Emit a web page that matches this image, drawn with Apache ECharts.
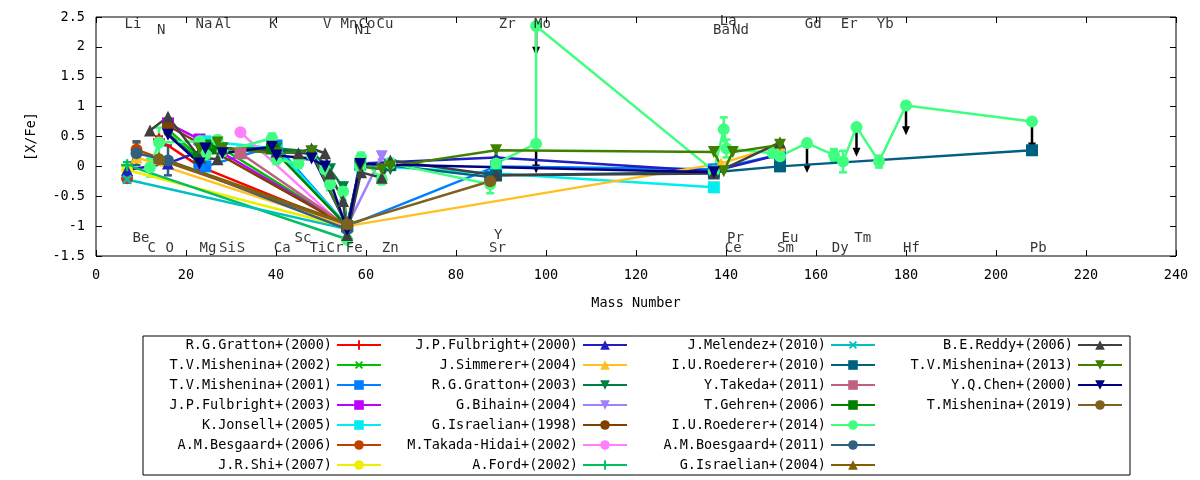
<!DOCTYPE html>
<html>
<head>
<meta charset="utf-8">
<script src="https://cdn.jsdelivr.net/npm/echarts@6/dist/echarts.min.js"></script>
<style>
html, body { margin: 0; padding: 0; background: #fff; }
#chart { width: 1200px; height: 480px; }
</style>
</head>
<body>
<div id="chart"></div>
<script>
// [mass, [X/Fe], error]
const gratton2000 = [[14.0, 0.45, 0.05], [23.0, 0.0, 0.05], [55.8, -1.0, 0]];
const mishenina2002 = [[16.0, 0.62, 0.08], [23.0, 0.15, 0.05], [24.3, 0.35, 0.05], [27.0, 0.35, 0.05], [55.8, -1.0, 0]];
const mishenina2001 = [[23.0, 0.05, 0], [24.3, 0.0, 0.05], [40.1, 0.35, 0.05], [55.8, -1.0, 0], [88.9, 0.0, 0], [137.3, -0.05, 0], [152.0, 0.2, 0]];
const fulbright2003 = [[16.0, 0.72, 0], [23.0, 0.45, 0], [55.8, -1.0, 0]];
const jonsell2005 = [[24.3, 0.42, 0], [40.1, 0.3, 0], [55.8, -1.0, 0], [58.7, 0.02, 0], [88.9, -0.12, 0], [137.3, -0.35, 0]];
const besgaard2006 = [[6.9, -0.2, 0.05], [9.0, 0.28, 0.12], [55.8, -1.0, 0]];
const shi2007 = [[6.9, -0.06, 0], [55.8, -1.02, 0]];
const fulbright2000 = [[6.9, -0.06, 0], [16.0, 0.05, 0], [23.0, 0.25, 0], [24.3, 0.3, 0], [40.1, 0.3, 0], [47.9, 0.2, 0], [55.8, -1.0, 0], [58.7, 0.05, 0], [88.9, 0.15, 0], [137.3, -0.08, 0], [152.0, 0.2, 0]];
const simmerer2004 = [[9.0, 0.15, 0], [55.8, -1.0, 0], [138.9, 0.05, 0], [152.0, 0.35, 0]];
const gratton2003 = [[16.0, 0.55, 0], [23.0, 0.1, 0], [24.3, 0.3, 0], [28.1, 0.3, 0], [40.1, 0.3, 0], [47.9, 0.25, 0], [52.0, -0.05, 0], [54.9, -0.35, 0], [55.8, -1.0, 0], [58.7, 0.0, 0], [65.4, -0.05, 0]];
const bihain2004 = [[55.8, -1.0, 0], [63.5, 0.17, 0.05]];
const israelian1998 = [[16.0, 0.68, 0], [55.8, -1.0, 0]];
const takadaHidai2002 = [[32.1, 0.57, 0], [55.8, -1.05, 0]];
const ford2002 = [[6.9, 0.02, 0.05], [55.8, -1.22, 0]];
const melendez2010 = [[6.9, -0.22, 0.05], [55.8, -1.05, 0]];
const roederer2010 = [[65.4, 0.02, 0], [87.6, -0.18, 0], [88.9, -0.15, 0], [137.3, -0.1, 0], [152.0, 0.0, 0], [208.0, 0.27, 0]];
const takeda2011 = [[32.1, 0.22, 0], [55.8, -1.0, 0]];
const gehren2006 = [[23.0, 0.15, 0], [24.3, 0.35, 0], [27.0, 0.3, 0], [39.1, 0.3, 0], [55.8, -1.0, 0]];
const roederer2014 = [[12.0, -0.02, 0.15], [14.0, 0.4, 0.25], [23.0, 0.42, 0.07], [24.3, 0.2, 0.08], [27.0, 0.44, 0.07],
  [28.1, 0.25, 0.1], [39.1, 0.47, 0.08], [40.1, 0.12, 0.08], [45.0, 0.05, 0.08], [47.9, 0.2, 0.08], [50.9, -0.05, 0.1],
  [52.0, -0.3, 0.1], [54.9, -0.42, 0.15], [55.8, -1.23, 0.05], [58.7, 0.0, 0.1], [58.9, 0.15, 0.08], [63.5, -0.22, 0.08],
  [65.4, 0.05, 0.08], [87.6, -0.3, 0.15], [88.9, 0.05, 0.1], [97.8, 0.38, 0], [97.8, 2.35, 0], [137.3, -0.08, 0.1],
  [139.5, 0.62, 0.2], [140.1, 0.3, 0.15], [150.4, 0.22, 0.07], [152.0, 0.17, 0.08], [158.0, 0.39, 0], [164.0, 0.19, 0.1],
  [166.0, 0.08, 0.18], [169.0, 0.66, 0], [174.0, 0.08, 0.1], [180.0, 1.02, 0], [208.0, 0.75, 0]];
const boesgaard2011 = [[9.0, 0.22, 0.2], [16.0, 0.1, 0.25], [55.8, -1.05, 0]];
const israelian2004 = [[14.0, 0.15, 0], [55.8, -0.95, 0]];
const reddy2006 = [[12.0, 0.6, 0], [16.0, 0.83, 0], [23.0, 0.15, 0], [27.0, 0.12, 0], [28.1, 0.3, 0], [40.1, 0.25, 0],
  [45.0, 0.22, 0], [47.9, 0.3, 0], [50.9, 0.22, 0], [52.0, -0.12, 0], [54.9, -0.58, 0], [55.8, -1.15, 0], [58.9, -0.1, 0],
  [63.5, -0.19, 0], [65.4, 0.1, 0], [88.9, -0.15, 0], [137.3, -0.12, 0], [152.0, 0.4, 0]];
const mishenina2013 = [[23.0, 0.3, 0], [27.0, 0.4, 0], [28.1, 0.3, 0], [40.1, 0.22, 0], [47.9, 0.25, 0], [55.8, -1.0, 0],
  [58.7, 0.0, 0], [63.5, -0.05, 0], [65.4, 0.0, 0], [88.9, 0.27, 0], [137.3, 0.24, 0], [139.5, -0.08, 0], [141.5, 0.24, 0], [152.0, 0.36, 0]];
const chen2000 = [[16.0, 0.53, 0], [23.0, 0.05, 0], [24.3, 0.3, 0], [28.1, 0.22, 0], [39.1, 0.33, 0], [40.1, 0.18, 0],
  [47.9, 0.13, 0], [50.9, 0.0, 0], [55.8, -1.06, 0], [58.7, 0.04, 0], [137.3, -0.1, 0]];
const mishenina2019 = [[14.0, 0.12, 0], [55.8, -0.97, 0], [87.6, -0.25, 0]];

// upper limits of I.U.Roederer+(2014): [mass, value]
const upperLimits = [[97.8, 2.35], [97.8, 0.38], [158.0, 0.39], [169.0, 0.66], [180.0, 1.02], [208.0, 0.75]];

// element labels: [name, mass, y]
const elementLabels = [
  ['Li', 8.2, 2.38], ['N', 14.5, 2.27], ['Na', 24.0, 2.38], ['Al', 28.3, 2.38], ['K', 39.4, 2.38], ['V', 51.4, 2.38],
  ['Mn', 56.2, 2.38], ['Co', 60.2, 2.38], ['Cu', 64.2, 2.38], ['Ni', 59.4, 2.27], ['Zr', 91.4, 2.38], ['Mo', 99.2, 2.38],
  ['La', 140.5, 2.43], ['Ba', 139.0, 2.27], ['Nd', 143.2, 2.27], ['Gd', 159.4, 2.38], ['Er', 167.4, 2.38], ['Yb', 175.4, 2.38],
  ['Be', 10.0, -1.21], ['C', 12.4, -1.37], ['O', 16.4, -1.37], ['Mg', 24.9, -1.37], ['Si', 29.2, -1.37], ['S', 32.2, -1.37],
  ['Ca', 41.4, -1.37], ['Sc', 46.0, -1.21], ['Ti', 49.3, -1.37], ['Cr', 53.1, -1.37], ['Fe', 57.4, -1.37], ['Zn', 65.4, -1.37],
  ['Y', 89.4, -1.16], ['Sr', 89.2, -1.37], ['Pr', 142.1, -1.21], ['Ce', 141.6, -1.37], ['Eu', 154.2, -1.21], ['Sm', 153.2, -1.37],
  ['Dy', 165.4, -1.37], ['Tm', 170.4, -1.21], ['Hf', 181.2, -1.37], ['Pb', 209.4, -1.37]
];

const seriesNames = [
  'R.G.Gratton+(2000)', 'T.V.Mishenina+(2002)', 'T.V.Mishenina+(2001)', 'J.P.Fulbright+(2003)', 'K.Jonsell+(2005)',
  'A.M.Besgaard+(2006)', 'J.R.Shi+(2007)', 'J.P.Fulbright+(2000)', 'J.Simmerer+(2004)', 'R.G.Gratton+(2003)',
  'G.Bihain+(2004)', 'G.Israelian+(1998)', 'M.Takada-Hidai+(2002)', 'A.Ford+(2002)', 'J.Melendez+(2010)',
  'I.U.Roederer+(2010)', 'Y.Takeda+(2011)', 'T.Gehren+(2006)', 'I.U.Roederer+(2014)', 'A.M.Boesgaard+(2011)',
  'G.Israelian+(2004)', 'B.E.Reddy+(2006)', 'T.V.Mishenina+(2013)', 'Y.Q.Chen+(2000)', 'T.Mishenina+(2019)'
];
const seriesData = [
  gratton2000, mishenina2002, mishenina2001, fulbright2003, jonsell2005,
  besgaard2006, shi2007, fulbright2000, simmerer2004, gratton2003,
  bihain2004, israelian1998, takadaHidai2002, ford2002, melendez2010,
  roederer2010, takeda2011, gehren2006, roederer2014, boesgaard2011,
  israelian2004, reddy2006, mishenina2013, chen2000, mishenina2019
];
const seriesColors = [
  '#ff0000', '#00c000', '#0080ff', '#c000ff', '#00eeee',
  '#c04000', '#eeee00', '#2020c0', '#ffc020', '#008040',
  '#a080ff', '#804000', '#ff80ff', '#00c060', '#00c0c0',
  '#006080', '#c06080', '#008000', '#40ff80', '#306080',
  '#806000', '#404040', '#408000', '#000080', '#806020'
];

const PLUS = 'path://M4,0H6V4H10V6H6V10H4V6H0V4H4Z';
const TRI_DOWN = 'path://M0,0L10,0L5,9Z';
const TRI_UP = 'path://M5,0L10,9L0,9Z';
const seriesSymbols = [
  PLUS, 'x', 'rect', 'rect', 'rect',
  'circle', 'circle', TRI_UP, TRI_UP, TRI_DOWN,
  TRI_DOWN, 'circle', 'circle', PLUS, 'x',
  'rect', 'rect', 'rect', 'circle', 'circle',
  TRI_UP, TRI_UP, TRI_DOWN, TRI_DOWN, 'circle'
];

const FONT = 'DejaVu Sans Mono';
const chart = echarts.init(document.getElementById('chart'));

function errorBars(colorIdx) {
  return function (params, api) {
    const x = api.value(0), y = api.value(1), e = api.value(2);
    const c = seriesColors[colorIdx];
    const top = api.coord([x, y + e]);
    const bot = api.coord([x, y - e]);
    const w = 4;
    const st = { stroke: c, lineWidth: 2.5 };
    return {
      type: 'group',
      children: [
        { type: 'line', shape: { x1: top[0], y1: top[1], x2: bot[0], y2: bot[1] }, style: st },
        { type: 'line', shape: { x1: top[0] - w, y1: top[1], x2: top[0] + w, y2: top[1] }, style: st },
        { type: 'line', shape: { x1: bot[0] - w, y1: bot[1], x2: bot[0] + w, y2: bot[1] }, style: st }
      ]
    };
  };
}

function renderArrow(params, api) {
  const x = api.value(0), y = api.value(1);
  const p0 = api.coord([x, y]);
  const p1 = api.coord([x, y - 0.5]);
  return {
    type: 'group',
    children: [
      { type: 'line', shape: { x1: p0[0], y1: p0[1], x2: p1[0], y2: p1[1] - 4 }, style: { stroke: '#000', lineWidth: 2.5 } },
      { type: 'polygon', shape: { points: [[p1[0] - 4, p1[1] - 9], [p1[0] + 4, p1[1] - 9], [p1[0], p1[1]]] }, style: { fill: '#000' } }
    ]
  };
}

const series = [];
seriesData.forEach(function (d, i) {
  series.push({
    name: seriesNames[i],
    type: 'line',
    data: d.map(function (p) { return [p[0], p[1]]; }),
    symbol: seriesSymbols[i] === 'x' ? PLUS : seriesSymbols[i],
    symbolRotate: seriesSymbols[i] === 'x' ? 45 : 0,
    symbolSize: 12,
    showAllSymbol: true,
    color: seriesColors[i],
    lineStyle: { width: 2.5, color: seriesColors[i] },
    itemStyle: { color: seriesColors[i] },
    emphasis: { disabled: true },
    z: 2
  });
  const errs = d.filter(function (p) { return p[2] > 0; });
  if (errs.length) {
    series.push({
      type: 'custom',
      renderItem: errorBars(i),
      data: errs,
      encode: { x: 0, y: 1 },
      silent: true,
      z: 2
    });
  }
  if (d === roederer2014) {
    series.push({
      type: 'custom',
      renderItem: renderArrow,
      data: upperLimits,
      encode: { x: 0, y: 1 },
      silent: true,
      z: 2
    });
  }
});

series.push({
  type: 'scatter',
  data: elementLabels.map(function (l) { return { name: l[0], value: [l[1], l[2]] }; }),
  symbolSize: 1,
  itemStyle: { color: 'rgba(0,0,0,0)' },
  label: {
    show: true,
    position: 'inside',
    formatter: '{b}',
    color: '#000',
    fontFamily: FONT,
    fontSize: 14
  },
  labelLayout: { hideOverlap: false },
  silent: true,
  z: 5
});

const legendCols = [[0, 7, 818], [7, 14, 572], [14, 21, 324], [21, 25, 77]];
const legends = legendCols.map(function (c) {
  return {
    data: seriesNames.slice(c[0], c[1]),
    orient: 'vertical',
    align: 'right',
    right: c[2],
    top: 338,
    height: 142,
    padding: 0,
    itemWidth: 44,
    itemHeight: 12,
    itemGap: 6,
    selectedMode: false,
    textStyle: { fontFamily: FONT, fontSize: 13.5, color: '#000' }
  };
});

const axisText = { fontFamily: FONT, fontSize: 13.5, color: '#000' };

chart.setOption({
  animation: false,
  backgroundColor: '#fff',
  grid: { left: 96, right: 24, top: 17, bottom: 224, show: true, borderColor: '#000', borderWidth: 1, backgroundColor: 'transparent' },
  legend: legends,
  graphic: [{
    type: 'rect',
    shape: { x: 143, y: 336, width: 987, height: 139 },
    style: { fill: 'none', stroke: '#000', lineWidth: 1 },
    silent: true
  }],
  xAxis: [{
    type: 'value', min: 0, max: 240, interval: 20,
    axisLine: { show: false, onZero: false },
    axisTick: { inside: true, length: 6, lineStyle: { color: '#000' } },
    axisLabel: Object.assign({ margin: 12 }, axisText),
    splitLine: { show: false },
    name: 'Mass Number', nameLocation: 'middle', nameGap: 40, nameTextStyle: axisText
  }, {
    type: 'value', min: 0, max: 240, interval: 20, position: 'top',
    axisLine: { show: false, onZero: false },
    axisTick: { inside: true, length: 6, lineStyle: { color: '#000' } },
    axisLabel: { show: false },
    splitLine: { show: false }
  }],
  yAxis: [{
    type: 'value', min: -1.5, max: 2.5, interval: 0.5,
    axisLine: { show: false, onZero: false },
    axisTick: { inside: true, length: 6, lineStyle: { color: '#000' } },
    axisLabel: Object.assign({ margin: 11 }, axisText),
    splitLine: { show: false },
    name: '[X/Fe]', nameLocation: 'middle', nameGap: 58, nameRotate: 90, nameTextStyle: axisText
  }, {
    type: 'value', min: -1.5, max: 2.5, interval: 0.5, position: 'right',
    axisLine: { show: false, onZero: false },
    axisTick: { inside: true, length: 6, lineStyle: { color: '#000' } },
    axisLabel: { show: false },
    splitLine: { show: false }
  }],
  series: series
});
</script>
</body>
</html>
